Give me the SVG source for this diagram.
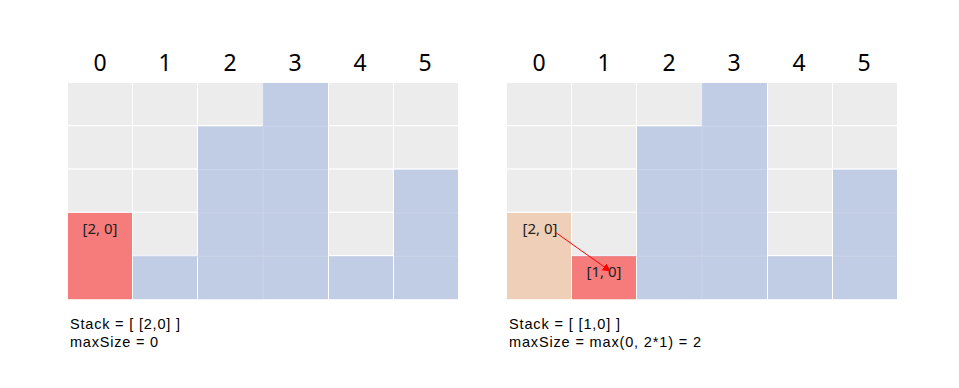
<svg xmlns="http://www.w3.org/2000/svg" width="959" height="388" viewBox="0 0 959 388">
<defs>
<style>
.g{fill:#ececec}
.b{fill:#c1cde4}
.r{fill:#f67b7b}
.p{fill:#f0cfb8}
.hdr{font-family:"Noto Sans","Open Sans",sans-serif;font-size:23px;fill:#000;text-anchor:middle}
.lbl{font-family:"Noto Sans","Open Sans",sans-serif;font-size:15px;fill:#222;text-anchor:middle}
.txt{font-family:"Liberation Sans",Arial,sans-serif;font-size:14.5px;fill:#000}
</style>
<marker id="ah" viewBox="0 0 10 10" refX="9" refY="5" markerWidth="8" markerHeight="8" orient="auto" markerUnits="userSpaceOnUse">
<path d="M0,0 L10,5 L0,10 z" fill="#ff0000"/>
</marker>
<g id="cells">
<rect class="g" x="0" y="0" width="64" height="42"/>
<rect class="g" x="0" y="43.3" width="64" height="42"/>
<rect class="g" x="0" y="86.6" width="64" height="42"/>
<rect class="g" x="65" y="0" width="64" height="42"/>
<rect class="g" x="65" y="43.3" width="64" height="42"/>
<rect class="g" x="65" y="86.6" width="64" height="42"/>
<rect class="g" x="65" y="129.9" width="64" height="42"/>
<rect class="b" x="65" y="173.2" width="64" height="43"/>
<rect class="g" x="130" y="0" width="64" height="42"/>
<rect class="b" x="130" y="43.3" width="65" height="173"/>
<rect class="b" x="195" y="0" width="65" height="216.2"/>
<rect class="g" x="261" y="0" width="64" height="42"/>
<rect class="g" x="261" y="43.3" width="64" height="42"/>
<rect class="g" x="261" y="86.6" width="64" height="42"/>
<rect class="g" x="261" y="129.9" width="64" height="42"/>
<rect class="b" x="261" y="173.2" width="64" height="43"/>
<rect class="g" x="326" y="0" width="64" height="42"/>
<rect class="g" x="326" y="43.3" width="64" height="42"/>
<rect class="b" x="326" y="86.6" width="64" height="129.6"/>
<g stroke="#cbd5ea" stroke-width="1">
<line x1="195" y1="0" x2="195" y2="216"/>
<line x1="130" y1="86.6" x2="260" y2="86.6"/>
<line x1="130" y1="129.9" x2="260" y2="129.9"/>
<line x1="65" y1="173.2" x2="260" y2="173.2"/>
<line x1="195" y1="43.3" x2="260" y2="43.3"/>
<line x1="326" y1="129.9" x2="390" y2="129.9"/>
<line x1="326" y1="173.2" x2="390" y2="173.2"/>
</g>
</g>
</defs>

<g id="left-grid" transform="translate(68,83)">
<use href="#cells"/>
<rect class="r" x="0" y="129.9" width="64" height="86.3"/>
</g>

<g id="right-grid" transform="translate(507,83)">
<use href="#cells"/>
<rect class="p" x="0" y="129.9" width="64" height="86.3"/>
<rect class="r" x="65" y="173.2" width="64" height="43"/>
</g>

<g id="left-headers">
<text class="hdr" x="100" y="71">0</text>
<text class="hdr" x="165" y="71">1</text>
<text class="hdr" x="230" y="71">2</text>
<text class="hdr" x="295" y="71">3</text>
<text class="hdr" x="360" y="71">4</text>
<text class="hdr" x="425" y="71">5</text>
</g>
<g id="right-headers">
<text class="hdr" x="539" y="71">0</text>
<text class="hdr" x="604" y="71">1</text>
<text class="hdr" x="669" y="71">2</text>
<text class="hdr" x="734" y="71">3</text>
<text class="hdr" x="799" y="71">4</text>
<text class="hdr" x="864" y="71">5</text>
</g>

<g id="left-label"><text class="lbl" x="100" y="234">[2, 0]</text></g>
<g id="right-label-20"><text class="lbl" x="540" y="234">[2, 0]</text></g>
<g id="right-label-10"><text class="lbl" x="604" y="277">[1, 0]</text></g>

<g id="connectors">
<line x1="555" y1="232" x2="610" y2="271" stroke="#ff0000" stroke-width="1" marker-end="url(#ah)"/>
</g>

<g id="left-text">
<text class="txt" x="70" y="329" textLength="110" lengthAdjust="spacing">Stack = [ [2,0] ]</text>
<text class="txt" x="70" y="347" textLength="88" lengthAdjust="spacing">maxSize = 0</text>
</g>
<g id="right-text">
<text class="txt" x="509" y="329" textLength="111" lengthAdjust="spacing">Stack = [ [1,0] ]</text>
<text class="txt" x="509" y="347" textLength="192" lengthAdjust="spacing">maxSize = max(0, 2*1) = 2</text>
</g>
</svg>
